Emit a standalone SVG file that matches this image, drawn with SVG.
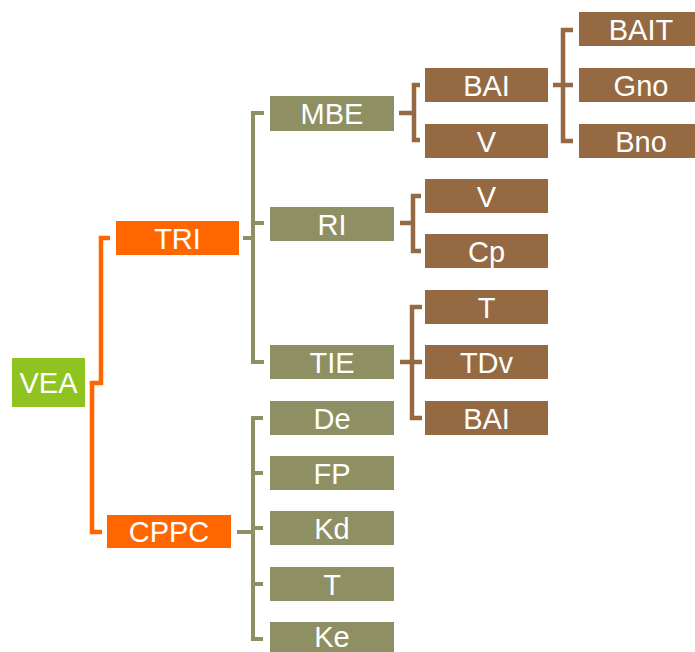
<svg xmlns="http://www.w3.org/2000/svg" width="695" height="652" viewBox="0 0 695 652">
<style>
.t{font-family:"Liberation Sans",Arial,sans-serif;font-size:29px;fill:#fff;text-anchor:middle}
.g{fill:#8fc31f}.o{fill:#ff6600}.ol{fill:#8e8f62}.br{fill:#956a43}
.c{fill:none;stroke-width:4.5;stroke-linejoin:miter;stroke-linecap:butt}
.co{stroke:#ff6600}.col{stroke:#8e8f62;stroke-width:4}.cbr{stroke:#956a43}
</style>
<rect width="695" height="652" fill="#fff"/>
<g id="connectors">
<path class="c co" d="M110,238 H101 V383 H92 V532 H102"/>
<path class="c col" d="M264,113 H253 V362 H264 M243,238 H253 M253,223 H264"/>
<path class="c col" d="M263,418 H253 V639 H263 M237,532 H253 M253,473 H263 M253,528 H263 M253,584 H263"/>
<path class="c cbr" d="M420,85 H414 V140 H420 M399,113 H414"/>
<path class="c cbr" d="M421,196 H413 V251 H421 M400,223 H413"/>
<path class="c cbr" d="M422,307 H412 V418 H422 M400,362 H422"/>
<path class="c cbr" d="M573,30 H563 V141 H573 M553,85 H573"/>
</g>
<g id="n-VEA"><rect class="g" x="12" y="358" width="73" height="49"/><text class="t" x="48.5" y="393">VEA</text></g>
<g id="n-TRI"><rect class="o" x="116" y="221" width="123" height="34"/><text class="t" x="177.5" y="248.5">TRI</text></g>
<g id="n-CPPC"><rect class="o" x="107" y="515" width="124" height="33"/><text class="t" x="169" y="542">CPPC</text></g>
<g id="n-MBE"><rect class="ol" x="270" y="96" width="124" height="35"/><text class="t" x="332" y="124">MBE</text></g>
<g id="n-RI"><rect class="ol" x="270" y="207" width="124" height="34"/><text class="t" x="332" y="234.5">RI</text></g>
<g id="n-TIE"><rect class="ol" x="270" y="345" width="124" height="34"/><text class="t" x="332" y="372.5">TIE</text></g>
<g id="n-De"><rect class="ol" x="270" y="401" width="124" height="34"/><text class="t" x="332" y="428.5">De</text></g>
<g id="n-FP"><rect class="ol" x="270" y="456" width="124" height="34"/><text class="t" x="332" y="483.5">FP</text></g>
<g id="n-Kd"><rect class="ol" x="270" y="511" width="124" height="34"/><text class="t" x="332" y="538.5">Kd</text></g>
<g id="n-T2"><rect class="ol" x="270" y="567" width="124" height="34"/><text class="t" x="332" y="594.5">T</text></g>
<g id="n-Ke"><rect class="ol" x="270" y="622" width="124" height="34"/><text class="t" x="332" y="646.5">Ke</text></g>
<g id="n-BAI1"><rect class="br" x="425" y="68" width="123" height="34"/><text class="t" x="486.5" y="95.5">BAI</text></g>
<g id="n-V1"><rect class="br" x="425" y="124" width="123" height="34"/><text class="t" x="486.5" y="151.5">V</text></g>
<g id="n-V2"><rect class="br" x="425" y="179" width="123" height="34"/><text class="t" x="486.5" y="206.5">V</text></g>
<g id="n-Cp"><rect class="br" x="425" y="234" width="123" height="34"/><text class="t" x="486.5" y="261.5">Cp</text></g>
<g id="n-T1"><rect class="br" x="425" y="290" width="123" height="34"/><text class="t" x="486.5" y="317.5">T</text></g>
<g id="n-TDv"><rect class="br" x="425" y="345" width="123" height="34"/><text class="t" x="486.5" y="372.5">TDv</text></g>
<g id="n-BAI2"><rect class="br" x="425" y="401" width="123" height="34"/><text class="t" x="486.5" y="428.5">BAI</text></g>
<g id="n-BAIT"><rect class="br" x="579" y="12" width="124" height="34"/><text class="t" x="641" y="39.5">BAIT</text></g>
<g id="n-Gno"><rect class="br" x="579" y="68" width="124" height="34"/><text class="t" x="641" y="95.5">Gno</text></g>
<g id="n-Bno"><rect class="br" x="579" y="124" width="124" height="34"/><text class="t" x="641" y="151.5">Bno</text></g>
</svg>
